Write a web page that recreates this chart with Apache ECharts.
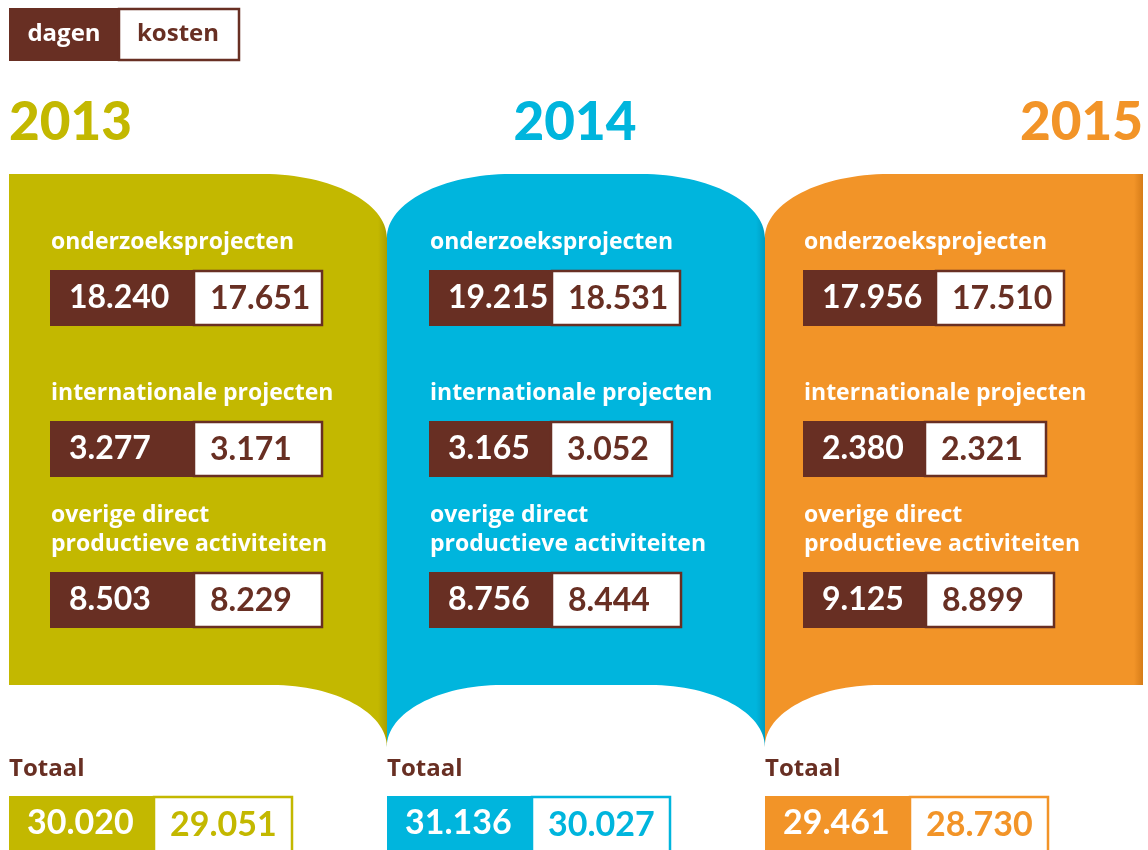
<!DOCTYPE html>
<html lang="nl">
<head>
  <meta charset="UTF-8" />
  <title>dagen en kosten 2013-2015</title>
  <script src="https://cdn.jsdelivr.net/npm/echarts@6/dist/echarts.min.js"></script>
  <style>
    html, body { margin: 0; padding: 0; background: #fff; }
    #chart { width: 1148px; height: 850px; }
  </style>
</head>
<body>
  <div id="chart"></div>
  <script>
    // data
    var years = ["2013", "2014", "2015"];
    var rows = ["onderzoeksprojecten", "internationale projecten", "overige direct\nproductieve activiteiten"];
    var dagen = [[18240, 3277, 8503], [19215, 3165, 8756], [17956, 2380, 9125]];
    var kosten = [[17651, 3171, 8229], [18531, 3052, 8444], [17510, 2321, 8899]];
    var totaalDagen = [30020, 31136, 29461];
    var totaalKosten = [29051, 30027, 28730];

    // looks
    var BROWN = "#682f23";
    var FONT = "Lato, 'Open Sans', sans-serif";
    var LABEL_FONT = "'Open Sans', Lato, sans-serif";
    var yearColors = ["#c3b800", "#00b5dd", "#f29428"];
    var yearShade = ["#a99f00", "#009cc0", "#d67c18"];
    var boxShift = [-148, -147, -151];
    var darkW = [[143, 143, 143], [122, 121, 122], [132, 121, 122]];
    var lightW = [[130, 130, 130], [130, 123, 131], [130, 123, 130]];

    function fmt(n) {
      return String(n).replace(/\B(?=(\d{3})+(?!\d))/g, ".");
    }

    var chart = echarts.init(document.getElementById("chart"), null, { renderer: "canvas" });

    var TOP = 174, FLAT = 685, TIP = 747, RXT = 124, RYT = 64, RXB = 115, RYB = 62, K = 0.5523;

    function panelPath(i, L, R) {
      var p = [];
      if (i === 0) {
        p.push("M" + L + " " + TOP);
      } else {
        p.push("M" + L + " " + (TOP + RYT));
        p.push("C" + L + " " + (TOP + RYT - K * RYT) + " " + (L + RXT - K * RXT) + " " + TOP + " " + (L + RXT) + " " + TOP);
      }
      if (i === 2) {
        p.push("L" + R + " " + TOP);
        p.push("L" + R + " " + FLAT);
      } else {
        p.push("L" + (R - RXT) + " " + TOP);
        p.push("C" + (R - RXT + K * RXT) + " " + TOP + " " + R + " " + (TOP + RYT - K * RYT) + " " + R + " " + (TOP + RYT));
        p.push("L" + R + " " + TIP);
        p.push("C" + R + " " + (TIP - K * RYB) + " " + (R - RXB + K * RXB) + " " + FLAT + " " + (R - RXB) + " " + FLAT);
      }
      if (i === 0) {
        p.push("L" + L + " " + FLAT);
      } else {
        p.push("L" + (L + RXB) + " " + FLAT);
        p.push("C" + (L + RXB - K * RXB) + " " + FLAT + " " + L + " " + (TIP - K * RYB) + " " + L + " " + TIP);
      }
      p.push("Z");
      return p.join(" ");
    }

    function renderPanel(params, api) {
      var i = api.value(0);
      var c = api.coord([i, 0]);
      var half = api.size([1, 0])[0] / 2;
      var L = c[0] - half, R = c[0] + half;
      var shadeStart = (R - L - 9) / (R - L);
      var align = ["left", "center", "right"][i];
      var tx = [L, c[0] - 1, R][i];
      return {
        type: "group",
        children: [
          {
            type: "path",
            shape: { pathData: panelPath(i, L, R) },
            style: {
              fill: new echarts.graphic.LinearGradient(0, 0, 1, 0, [
                { offset: 0, color: yearColors[i] },
                { offset: shadeStart, color: yearColors[i] },
                { offset: 1, color: yearShade[i] }
              ])
            }
          },
          {
            type: "text",
            x: tx,
            y: 123,
            style: {
              text: years[i],
              fill: yearColors[i],
              font: "900 53px " + FONT,
              align: align,
              verticalAlign: "middle"
            }
          }
        ]
      };
    }

    function renderBox(params, api) {
      var y = api.value(0), r = api.value(1);
      var c = api.coord([y, r]);
      var x0 = Math.round(c[0] + boxShift[y]);
      var top = Math.round(c[1] - 28);
      var dw = darkW[y][r], lw = lightW[y][r];
      return {
        type: "group",
        children: [
          {
            type: "text",
            x: x0 + 1,
            y: top - 13,
            style: {
              text: rows[r],
              fill: "#fff",
              font: "bold 23px " + LABEL_FONT,
              lineHeight: 29,
              align: "left",
              verticalAlign: "bottom"
            }
          },
          { type: "rect", shape: { x: x0, y: top, width: dw, height: 56 }, style: { fill: BROWN } },
          {
            type: "rect",
            shape: { x: x0 + dw + 1, y: top + 1, width: lw - 2, height: 54 },
            style: { fill: "#fff", stroke: BROWN, lineWidth: 2.5 }
          },
          {
            type: "text",
            x: x0 + 19,
            y: top + 28,
            style: { text: fmt(dagen[y][r]), fill: "#fff", font: "bold 32px " + FONT, verticalAlign: "middle" }
          },
          {
            type: "text",
            x: x0 + dw + 17,
            y: top + 29,
            style: { text: fmt(kosten[y][r]), fill: BROWN, font: "bold 32px " + FONT, verticalAlign: "middle" }
          }
        ]
      };
    }

    function renderTotal(params, api) {
      var y = api.value(0);
      var c = api.coord([y, 0]);
      var L = Math.round(c[0] - api.size([1, 0])[0] / 2);
      var top = Math.round(c[1] - 28);
      return {
        type: "group",
        children: [
          {
            type: "text",
            x: L,
            y: top - 27,
            style: { text: "Totaal", fill: BROWN, font: "bold 24px " + LABEL_FONT, verticalAlign: "middle" }
          },
          { type: "rect", shape: { x: L, y: top, width: 144, height: 57 }, style: { fill: yearColors[y] } },
          {
            type: "rect",
            shape: { x: L + 145, y: top + 1, width: 138, height: 60 },
            style: { fill: "#fff", stroke: yearColors[y], lineWidth: 2.5 }
          },
          {
            type: "text",
            x: L + 18,
            y: top + 27,
            style: { text: fmt(totaalDagen[y]), fill: "#fff", font: "bold 34px " + FONT, verticalAlign: "middle" }
          },
          {
            type: "text",
            x: L + 161,
            y: top + 29,
            style: { text: fmt(totaalKosten[y]), fill: yearColors[y], font: "bold 34px " + FONT, verticalAlign: "middle" }
          }
        ]
      };
    }

    var boxData = [];
    for (var yi = 0; yi < years.length; yi++) {
      for (var ri = 0; ri < rows.length; ri++) {
        boxData.push([yi, ri, dagen[yi][ri], kosten[yi][ri]]);
      }
    }

    var option = {
      animation: false,
      backgroundColor: "#fff",
      grid: [
        { left: 9, width: 1134, top: 222, height: 453 },
        { left: 9, width: 1134, top: 798, height: 57 }
      ],
      xAxis: [
        { type: "category", data: years, show: false, gridIndex: 0 },
        { type: "category", data: years, show: false, gridIndex: 1 }
      ],
      yAxis: [
        { type: "category", data: rows, inverse: true, show: false, gridIndex: 0 },
        { type: "category", data: ["Totaal"], show: false, gridIndex: 1 }
      ],
      graphic: [
        { type: "rect", shape: { x: 9, y: 8, width: 110, height: 53 }, style: { fill: BROWN } },
        {
          type: "rect",
          shape: { x: 119, y: 9, width: 120, height: 51 },
          style: { fill: "#fff", stroke: BROWN, lineWidth: 2.5 }
        },
        {
          type: "text", x: 64, y: 34,
          style: { text: "dagen", fill: "#fff", font: "bold 24px " + LABEL_FONT, align: "center", verticalAlign: "middle" }
        },
        {
          type: "text", x: 178, y: 34,
          style: { text: "kosten", fill: BROWN, font: "bold 24px " + LABEL_FONT, align: "center", verticalAlign: "middle" }
        }
      ],
      series: [
        {
          type: "custom",
          name: "panels",
          xAxisIndex: 0,
          yAxisIndex: 0,
          z: 1,
          renderItem: renderPanel,
          data: years.map(function (d, i) { return [i, 0]; })
        },
        {
          type: "custom",
          name: "waarden",
          xAxisIndex: 0,
          yAxisIndex: 0,
          z: 2,
          renderItem: renderBox,
          data: boxData
        },
        {
          type: "custom",
          name: "totaal",
          xAxisIndex: 1,
          yAxisIndex: 1,
          z: 2,
          renderItem: renderTotal,
          data: years.map(function (d, i) { return [i, 0, totaalDagen[i], totaalKosten[i]]; })
        }
      ]
    };

    chart.setOption(option);
  </script>
</body>
</html>
